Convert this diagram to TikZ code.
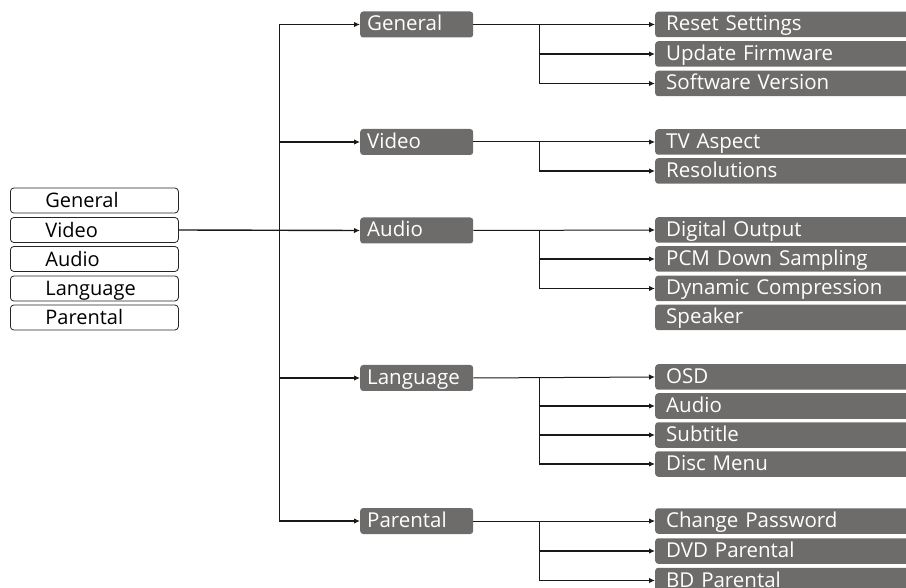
\documentclass[tikz,border=0pt]{standalone}
\usepackage{fontspec}
\setmainfont{Open Sans}
\usetikzlibrary{arrows.meta}
\definecolor{boxgray}{HTML}{6E6C6A}
\begin{document}
\begin{tikzpicture}[x=1pt,y=-1pt,
  every node/.style={inner sep=0pt, align=left},
  leftbox/.style={draw=black!85, line width=0.8pt, fill=white, rounded corners=3.5pt,
    minimum width=168pt, minimum height=25pt, text width=98pt, anchor=west,
    text height=15pt, text depth=0pt,
    font=\fontsize{20}{22}\selectfont},
  catbox/.style={fill=boxgray, text=white, rounded corners=3pt,
    minimum width=113pt, minimum height=26pt, text width=99pt, anchor=west,
    text height=15pt, text depth=2pt,
    font=\fontsize{20.5}{22}\selectfont},
  subbox/.style={fill=boxgray, text=white, rounded corners=3pt,
    minimum width=262pt, minimum height=25.5pt, text width=240pt, anchor=west,
    text height=15pt, text depth=2pt,
    font=\fontsize{20.5}{22}\selectfont},
  thin conn/.style={line width=1pt, draw=black!90},
  conn/.style={line width=1.4pt, draw=black!90},
  arr/.style={conn, -{Latex[length=6pt,width=5.5pt]}},
  thin arr/.style={thin conn, -{Latex[length=6pt,width=5.5pt]}}]
\useasboundingbox (0,0) rectangle (906,588);

% left menu
\node[leftbox] (lG) at (10,200.5) {General};
\node[leftbox] (lV) at (10,230) {Video};
\node[leftbox] (lA) at (10,259) {Audio};
\node[leftbox] (lL) at (10,288.5) {Language};
\node[leftbox] (lP) at (10,317.5) {Parental};

% categories
\node[catbox] (cG) at (360,24.5) {General};
\node[catbox] (cV) at (360,142) {Video};
\node[catbox] (cA) at (360,230.5) {Audio};
\node[catbox] (cL) at (360,378) {Language};
\node[catbox] (cP) at (360,521) {Parental};

% sub items
\node[subbox] (g1) at (655,24.5) {Reset Settings};
\node[subbox] (g2) at (655,54) {Update Firmware};
\node[subbox] (g3) at (655,83.5) {Software Version};
\node[subbox] (v1) at (655,142) {TV Aspect};
\node[subbox] (v2) at (655,171) {Resolutions};
\node[subbox] (a1) at (655,230) {Digital Output};
\node[subbox] (a2) at (655,259) {PCM Down Sampling};
\node[subbox] (a3) at (655,288.5) {Dynamic Compression};
\node[subbox] (a4) at (655,317.5) {Speaker};
\node[subbox] (n1) at (655,377) {OSD};
\node[subbox] (n2) at (655,406) {Audio};
\node[subbox] (n3) at (655,435) {Subtitle};
\node[subbox] (n4) at (655,464) {Disc Menu};
\node[subbox] (p1) at (655,521) {Change Password};
\node[subbox] (p2) at (655,551) {DVD Parental};
\node[subbox] (p3) at (655,580.5) {BD Parental};

% trunk
\coordinate (tx) at (279,0);
\coordinate (bx) at (539,0);
\draw[thin conn] (tx |- cG.west) -- (tx |- cP.west);
\draw[arr] (lV.east) -- (cA.west);
\draw[arr] (tx |- cG.west) -- (cG.west);
\draw[arr] (tx |- cV.west) -- (cV.west);
\draw[arr] (tx |- cL.west) -- (cL.west);
\draw[arr] (tx |- cP.west) -- (cP.west);

% General
\draw[thin arr] (cG.east) -- (g1.west);
\draw[thin conn] (bx |- cG.east) -- (bx |- g3.west);
\draw[arr] (bx |- g2.west) -- (g2.west);
\draw[arr] (bx |- g3.west) -- (g3.west);
% Video
\draw[thin arr] (cV.east) -- (v1.west);
\draw[thin conn] (bx |- cV.east) -- (bx |- v2.west);
\draw[arr] (bx |- v2.west) -- (v2.west);
% Audio
\draw[thin arr] (cA.east) -- (a1.west);
\draw[thin conn] (bx |- cA.east) -- (bx |- a3.west);
\draw[arr] (bx |- a2.west) -- (a2.west);
\draw[arr] (bx |- a3.west) -- (a3.west);
% Language
\draw[thin arr] (cL.east) -- (n1.west);
\draw[thin conn] (bx |- cL.east) -- (bx |- n4.west);
\draw[arr] (bx |- n2.west) -- (n2.west);
\draw[arr] (bx |- n3.west) -- (n3.west);
\draw[arr] (bx |- n4.west) -- (n4.west);
% Parental
\draw[thin arr] (cP.east) -- (p1.west);
\draw[thin conn] (bx |- cP.east) -- (bx |- p3.west);
\draw[arr] (bx |- p2.west) -- (p2.west);
\draw[arr] (bx |- p3.west) -- (p3.west);
\end{tikzpicture}
\end{document}
